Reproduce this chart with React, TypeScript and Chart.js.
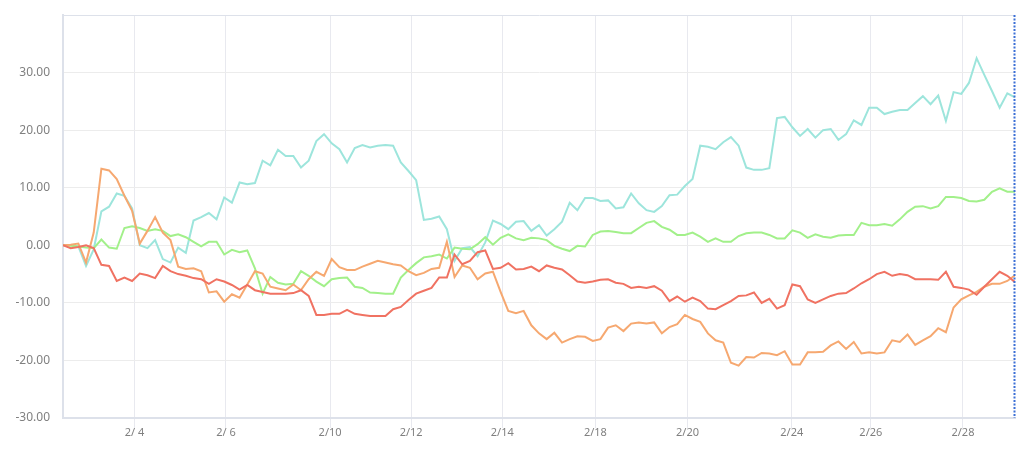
import React, { useEffect, useRef } from "react";
import { Chart, registerables } from "chart.js";

Chart.register(...registerables);

const cyanValues = [
  0, 0, -0.2, -3.6, -0.7, 5.9, 6.7, 9.0, 8.6, 6.4,
  0, -0.5, 0.9, -2.4, -3.0, -0.4, -1.3, 4.3, 4.9, 5.6,
  4.5, 8.3, 7.4, 10.9, 10.6, 10.8, 14.7, 13.9, 16.6, 15.5,
  15.5, 13.5, 14.7, 18.1, 19.3, 17.7, 16.7, 14.4, 16.9, 17.4,
  17.0, 17.3, 17.4, 17.3, 14.4, 12.9, 11.3, 4.4, 4.6, 5.0,
  2.8, -2.7, -0.5, -0.3, -1.9, 0.5, 4.3, 3.7, 2.8, 4.1,
  4.2, 2.5, 3.5, 1.7, 2.8, 4.1, 7.4, 6.1, 8.2, 8.2,
  7.7, 7.8, 6.4, 6.6, 9.0, 7.3, 6.1, 5.8, 6.8, 8.7,
  8.8, 10.3, 11.5, 17.3, 17.1, 16.7, 17.9, 18.8, 17.3, 13.5,
  13.1, 13.1, 13.4, 22.1, 22.3, 20.5, 19.0, 20.2, 18.7, 20.0,
  20.2, 18.3, 19.3, 21.7, 20.9, 23.9, 23.9, 22.8, 23.2, 23.5,
  23.5, 24.7, 25.9, 24.5, 26.0, 21.6, 26.6, 26.3, 28.2, 32.5,
  29.6, 26.8, 23.9, 26.4, 25.7,
];

const greenValues = [
  0, -0.1, -0.2, -0.4, -0.5, 1.0, -0.4, -0.6, 3.0, 3.3,
  3.0, 2.5, 2.8, 2.5, 1.6, 1.9, 1.4, 0.6, -0.2, 0.6,
  0.6, -1.6, -0.8, -1.2, -0.9, -4.0, -8.4, -5.5, -6.5, -6.8,
  -6.7, -4.5, -5.3, -6.3, -7.1, -5.9, -5.7, -5.6, -7.2, -7.4,
  -8.2, -8.3, -8.4, -8.4, -5.6, -4.3, -3.1, -2.1, -1.9, -1.6,
  -2.3, -0.4, -0.6, -0.7, 0.2, 1.4, 0.1, 1.3, 1.9, 1.2,
  0.9, 1.3, 1.2, 0.9, -0.1, -0.6, -1.0, -0.1, -0.2, 1.8,
  2.4, 2.5, 2.3, 2.1, 2.1, 3.0, 3.9, 4.2, 3.2, 2.7,
  1.8, 1.8, 2.2, 1.5, 0.6, 1.2, 0.6, 0.6, 1.6, 2.1,
  2.2, 2.2, 1.8, 1.2, 1.2, 2.6, 2.2, 1.3, 1.9, 1.5,
  1.3, 1.7, 1.8, 1.8, 3.9, 3.5, 3.5, 3.7, 3.4, 4.5,
  5.8, 6.7, 6.8, 6.4, 6.8, 8.4, 8.4, 8.2, 7.7, 7.6,
  7.9, 9.3, 9.9, 9.3, 9.3,
];

const orangeValues = [
  0, 0.1, 0.3, -3.0, 2.2, 13.3, 13.0, 11.5, 8.6, 6.0,
  0.3, 2.5, 4.9, 2.2, 0.9, -3.7, -4.1, -4.0, -4.5, -8.2,
  -8.0, -9.8, -8.5, -9.1, -6.8, -4.5, -4.9, -7.2, -7.5, -7.8,
  -6.8, -7.8, -5.9, -4.6, -5.3, -2.4, -3.8, -4.3, -4.3, -3.7,
  -3.2, -2.7, -3.0, -3.3, -3.5, -4.5, -5.2, -4.8, -4.1, -3.9,
  0.6, -5.5, -3.5, -3.9, -5.9, -4.9, -4.6, -8.1, -11.4, -11.8,
  -11.4, -13.9, -15.3, -16.3, -15.2, -16.9, -16.3, -15.8, -15.9, -16.6,
  -16.3, -14.3, -13.9, -14.9, -13.6, -13.4, -13.6, -13.4, -15.3, -14.2,
  -13.7, -12.1, -12.8, -13.3, -15.3, -16.5, -16.9, -20.4, -20.9, -19.4,
  -19.5, -18.7, -18.8, -19.1, -18.4, -20.7, -20.7, -18.6, -18.6, -18.5,
  -17.4, -16.7, -18.0, -16.8, -18.8, -18.6, -18.8, -18.6, -16.5, -16.8,
  -15.5, -17.3, -16.5, -15.8, -14.4, -15.1, -10.8, -9.4, -8.7, -8.1,
  -7.2, -6.7, -6.7, -6.2, -5.2,
];

const redValues = [
  0, -0.5, -0.3, 0, -0.5, -3.4, -3.6, -6.2, -5.6, -6.2,
  -4.9, -5.2, -5.7, -3.6, -4.5, -5.0, -5.3, -5.7, -5.9, -6.7,
  -5.9, -6.3, -6.9, -7.7, -6.9, -7.8, -8.1, -8.4, -8.4, -8.4,
  -8.3, -7.8, -8.8, -12.1, -12.1, -11.9, -11.9, -11.2, -11.9, -12.1,
  -12.3, -12.3, -12.3, -11.1, -10.7, -9.5, -8.4, -7.9, -7.4, -5.6,
  -5.6, -1.6, -3.3, -2.7, -1.2, -0.9, -4.1, -3.9, -3.1, -4.2,
  -4.1, -3.7, -4.5, -3.5, -3.9, -4.2, -5.2, -6.3, -6.5, -6.3,
  -6.0, -5.9, -6.5, -6.7, -7.4, -7.2, -7.4, -7.1, -7.9, -9.7,
  -8.9, -9.8, -9.1, -9.7, -11.0, -11.1, -10.4, -9.7, -8.8, -8.7,
  -8.2, -10.0, -9.3, -11.0, -10.4, -6.8, -7.1, -9.4, -10.0, -9.4,
  -8.8, -8.4, -8.3, -7.5, -6.6, -5.9, -5.0, -4.6, -5.3, -5.0,
  -5.2, -5.9, -5.9, -5.9, -6.0, -4.6, -7.2, -7.4, -7.7, -8.6,
  -7.2, -5.9, -4.6, -5.3, -6.4,
];

// x positions (in point-index units) of the date ticks and their labels
const tickPositions = [9.31, 21.22, 34.79, 45.35, 57.22, 69.35, 81.35, 94.92, 105.22, 117.22];
const tickLabels = ["2/ 4", "2/ 6", "2/10", "2/12", "2/14", "2/18", "2/20", "2/24", "2/26", "2/28"];

const yMin = -30;
const yMax = 40;
const yStep = 10;

const seriesNames = ["A", "B", "C", "D"];
const seriesColors = ["#9de5dc", "#a2f08a", "#f6a870", "#f07262"];

const lastLinePlugin = {
  id: "lastLine",
  afterDatasetsDraw(chart: any) {
    const { ctx, chartArea, scales } = chart;
    const x = Math.round(scales.x.getPixelForValue(cyanValues.length - 1)) - 0.5;
    ctx.save();
    ctx.strokeStyle = "#3b6fd6";
    ctx.lineWidth = 2;
    ctx.setLineDash([2, 1.5]);
    ctx.beginPath();
    ctx.moveTo(x, chartArea.top);
    ctx.lineTo(x, chartArea.bottom);
    ctx.stroke();
    ctx.restore();
  },
};

export default function App() {
  const canvasRef = useRef<HTMLCanvasElement | null>(null);

  useEffect(() => {
    if (!canvasRef.current) return;
    const seriesList = [cyanValues, greenValues, orangeValues, redValues];
    const datasets = seriesList
      .map((vals, k) => ({
        label: seriesNames[k],
        data: vals.map((v, i) => ({ x: i, y: v })),
        borderColor: seriesColors[k],
        backgroundColor: seriesColors[k],
        borderWidth: 2,
        pointRadius: 0,
        tension: 0,
        fill: false,
      }))
      .reverse();

    const chart = new Chart(canvasRef.current, {
      type: "line",
      data: { datasets },
      plugins: [lastLinePlugin],
      options: {
        animation: false,
        responsive: true,
        maintainAspectRatio: false,
        layout: { padding: { top: 7, right: 1, left: 0, bottom: 0 } },
        plugins: {
          legend: { display: false },
          tooltip: { enabled: false },
        },
        scales: {
          x: {
            type: "linear",
            min: 0,
            max: cyanValues.length - 1,
            afterBuildTicks: (scale: any) => {
              scale.ticks = tickPositions.map((v) => ({ value: v }));
            },
            afterFit: (scale: any) => {
              scale.height = 24;
              scale.paddingLeft = 0;
              scale.paddingRight = 0;
            },
            ticks: {
              autoSkip: false,
              maxRotation: 0,
              minRotation: 0,
              padding: -2,
              color: "#808080",
              font: { family: "Noto Sans", size: 11 },
              callback: (_v: any, i: number) => tickLabels[i] ?? "",
            },
            grid: {
              color: "#e8e9ef",
              lineWidth: 1,
              drawTicks: true,
              tickLength: 10,
            },
            border: { color: "#dde1ea", width: 2 },
          },
          y: {
            min: yMin,
            max: yMax,
            afterFit: (scale: any) => {
              scale.width = 55;
              scale.paddingTop = 0;
              scale.paddingBottom = 0;
            },
            ticks: {
              stepSize: yStep,
              padding: 13,
              color: "#808080",
              font: { family: "Noto Sans", size: 12 },
              callback: (v: any) => (v === yMax ? "" : Number(v).toFixed(2)),
            },
            grid: {
              drawTicks: false,
              lineWidth: 1,
              color: (c: any) => (c.tick && c.tick.value === yMax ? "#dde1ea" : "#ececec"),
            },
            border: { color: "#dde1ea", width: 2 },
          },
        },
      },
    });
    return () => chart.destroy();
  }, []);

  return (
    <div style={{ position: "relative", width: 1008, height: 434 }}>
      <canvas ref={canvasRef} />
    </div>
  );
}
